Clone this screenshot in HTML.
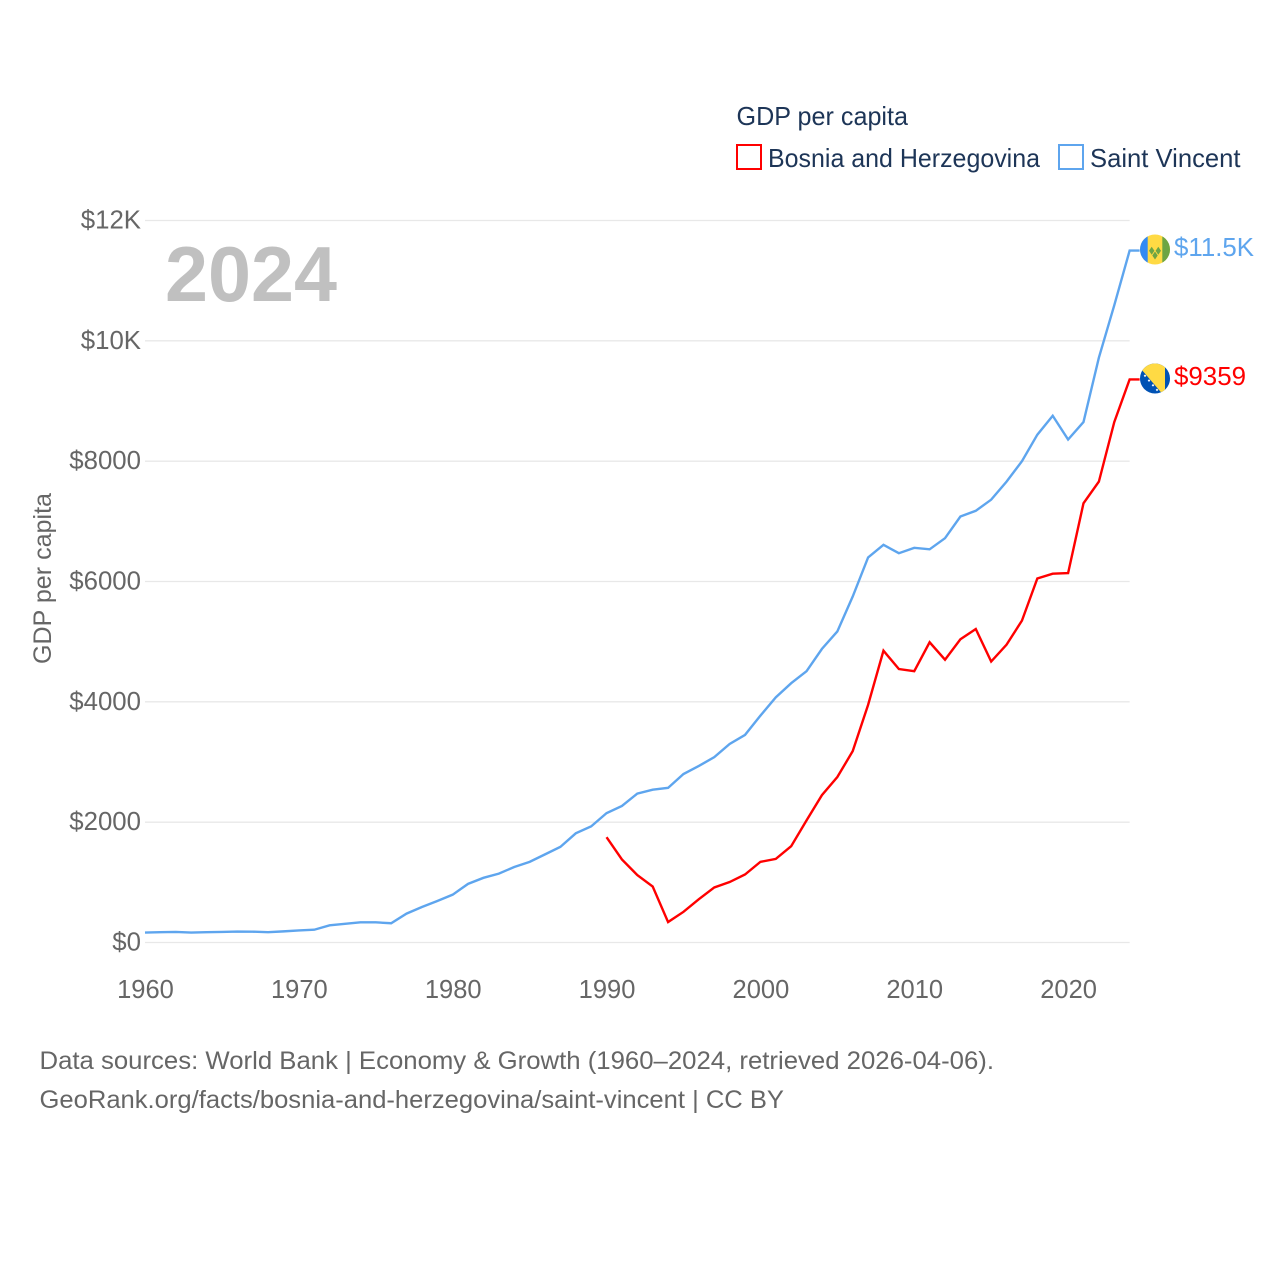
<!DOCTYPE html>
<html lang="en">
<head>
<meta charset="utf-8">
<title>GDP per capita: Bosnia and Herzegovina and Saint Vincent</title>
<style>
html,body{margin:0;padding:0;background:#fff}
svg{display:block}
text{font-family:"Liberation Sans",sans-serif}
</style>
</head>
<body>
<svg id="chart" width="1280" height="1280" viewBox="0 0 1280 1280" xmlns="http://www.w3.org/2000/svg">
  <defs>
    <clipPath id="flag-clip-top"><circle cx="1155" cy="249.5" r="15"/></clipPath>
    <clipPath id="flag-clip-bottom"><circle cx="1155" cy="378.5" r="15"/></clipPath>
  </defs>
  <rect width="1280" height="1280" fill="#fff"/>

  <g id="grid"></g>
  <g id="yticks"></g>
  <g id="xticks"></g>

  <text x="165" y="301" font-size="78" font-weight="700" fill="#c0c0c0" textLength="172" lengthAdjust="spacingAndGlyphs">2024</text>
  <text transform="translate(51,664) rotate(-90)" font-size="25" fill="#666" textLength="171" lengthAdjust="spacingAndGlyphs">GDP per capita</text>

  <g id="series"></g>

  <g>
    <text x="736.500" y="125" font-size="26" fill="#1d3557" textLength="171.500" lengthAdjust="spacingAndGlyphs">GDP per capita</text>
    <rect x="737" y="145" width="24" height="24" fill="none" stroke="#ff0000" stroke-width="2"/>
    <text x="768" y="167" font-size="26" fill="#1d3557" textLength="272" lengthAdjust="spacingAndGlyphs">Bosnia and Herzegovina</text>
    <rect x="1059" y="145" width="24" height="24" fill="none" stroke="#5ea5ee" stroke-width="2"/>
    <text x="1090" y="167" font-size="26" fill="#1d3557" textLength="150.500" lengthAdjust="spacingAndGlyphs">Saint Vincent</text>
  </g>

  <g clip-path="url(#flag-clip-top)">
    <rect x="1140" y="234" width="30" height="31" fill="#ffda44"/>
    <rect x="1140" y="234" width="7.700" height="31" fill="#338af3"/>
    <rect x="1162.300" y="234" width="7.700" height="31" fill="#6da544"/>
    <path d="M1151.700 246.700l2.700 4-2.700 4-2.700-4zM1158.300 246.700l2.700 4-2.700 4-2.700-4zM1155 251.500l2.700 4-2.700 4-2.700-4z" fill="#6da544"/>
  </g>
  <g clip-path="url(#flag-clip-bottom)">
    <rect x="1140" y="363" width="30" height="31" fill="#0052b4"/>
    <path d="M1135 362L1165 362L1165 396L1162.500 394Z" fill="#ffda44"/>
    <path d="M1145 374.500l1.300 1.300-1.300 1.300-1.300-1.300zM1149 379.300l1.300 1.300-1.300 1.300-1.300-1.300zM1153 384l1.300 1.300-1.300 1.300-1.300-1.300zM1157 388.600l1.300 1.300-1.300 1.300-1.300-1.300z" fill="#fff"/>
  </g>

  <text id="label-sv" x="1174" y="256" font-size="25.800" fill="#5ea5ee" textLength="80" lengthAdjust="spacingAndGlyphs"></text>
  <text id="label-ba" x="1174" y="385" font-size="25.800" fill="#ff0000" textLength="72" lengthAdjust="spacingAndGlyphs"></text>

  <text x="39.500" y="1069" font-size="25" fill="#666" textLength="954.500" lengthAdjust="spacingAndGlyphs">Data sources: World Bank | Economy &amp; Growth (1960–2024, retrieved 2026-04-06).</text>
  <text x="39.500" y="1108" font-size="25" fill="#666" textLength="744.500" lengthAdjust="spacingAndGlyphs">GeoRank.org/facts/bosnia-and-herzegovina/saint-vincent | CC BY</text>
</svg>

<script>
const saintVincentStartYear = 1960;
const saintVincentValues = [165, 172, 175, 165, 172, 175, 182, 180, 172, 185, 200, 212, 285, 310, 335, 335, 320, 480, 590, 690, 795, 975, 1075, 1145, 1255, 1340, 1465, 1590, 1815, 1930, 2150, 2270, 2475, 2540, 2570, 2800, 2935, 3080, 3300, 3450, 3770, 4075, 4310, 4510, 4880, 5170, 5750, 6400, 6610, 6470, 6560, 6535, 6720, 7080, 7175, 7360, 7660, 8000, 8440, 8755, 8360, 8650, 9720, 10590, 11500];
const bosniaStartYear = 1990;
const bosniaValues = [1750, 1380, 1120, 930, 340, 510, 720, 915, 1005, 1130, 1340, 1390, 1600, 2030, 2450, 2750, 3180, 3950, 4850, 4545, 4510, 4990, 4700, 5040, 5210, 4670, 4950, 5350, 6050, 6130, 6140, 7300, 7660, 8650, 9359];
const yTickValues = [0, 2000, 4000, 6000, 8000, 10000, 12000];
const yTickLabels = ["$0", "$2000", "$4000", "$6000", "$8000", "$10K", "$12K"];
const xTickYears = [1960, 1970, 1980, 1990, 2000, 2010, 2020];
const endLabelSaintVincent = "$11.5K";
const endLabelBosnia = "$9359";

const NS = "http://www.w3.org/2000/svg";
function xScale(year) { return 145 + (year - 1960) * 15.385; }
function yScale(value) { return 942.5 - value * (722 / 12000); }

const grid = document.getElementById("grid");
const yticks = document.getElementById("yticks");
const xticks = document.getElementById("xticks");
const series = document.getElementById("series");

yTickValues.forEach(function (v, i) {
  const line = document.createElementNS(NS, "line");
  
  
  line.setAttribute("x1", xScale(1960));
  line.setAttribute("x2", xScale(2024));
  line.setAttribute("y1", yScale(v));
  line.setAttribute("y2", yScale(v));
  line.setAttribute("stroke", "#e8e8e8");
  line.setAttribute("stroke-width", "1.300");
  grid.appendChild(line);

  const t = document.createElementNS(NS, "text");
  
  
  t.setAttribute("x", 141);
  t.setAttribute("y", yScale(v) + 8);
  t.setAttribute("text-anchor", "end");
  t.setAttribute("font-size", "25.800");
  t.setAttribute("fill", "#666");
  t.textContent = yTickLabels[i];
  yticks.appendChild(t);
});

xTickYears.forEach(function (year) {
  const t = document.createElementNS(NS, "text");
  
  
  t.setAttribute("x", xScale(year) + 0.500);
  t.setAttribute("y", 998);
  t.setAttribute("text-anchor", "middle");
  t.setAttribute("font-size", "25.500");
  t.setAttribute("fill", "#666");
  t.textContent = String(year);
  xticks.appendChild(t);
});

function linePath(values, startYear) {
  const pts = values.map(function (v, i) {
    return xScale(startYear + i).toFixed(2) + "," + yScale(v).toFixed(2);
  });
  const lastX = xScale(startYear + values.length - 1);
  const lastY = yScale(values[values.length - 1]);
  pts.push((lastX + 10).toFixed(2) + "," + lastY.toFixed(2));
  return "M" + pts.join("L");
}

const blueLine = document.createElementNS(NS, "path");


blueLine.setAttribute("d", linePath(saintVincentValues, saintVincentStartYear));
blueLine.setAttribute("fill", "none");
blueLine.setAttribute("stroke", "#5ea5ee");
blueLine.setAttribute("stroke-width", "2.400");
blueLine.setAttribute("stroke-linejoin", "miter");
series.appendChild(blueLine);

const redLine = document.createElementNS(NS, "path");


redLine.setAttribute("d", linePath(bosniaValues, bosniaStartYear));
redLine.setAttribute("fill", "none");
redLine.setAttribute("stroke", "#ff0000");
redLine.setAttribute("stroke-width", "2.400");
redLine.setAttribute("stroke-linejoin", "miter");
series.appendChild(redLine);

document.getElementById("label-sv").textContent = endLabelSaintVincent;
document.getElementById("label-ba").textContent = endLabelBosnia;
</script>
</body>
</html>
